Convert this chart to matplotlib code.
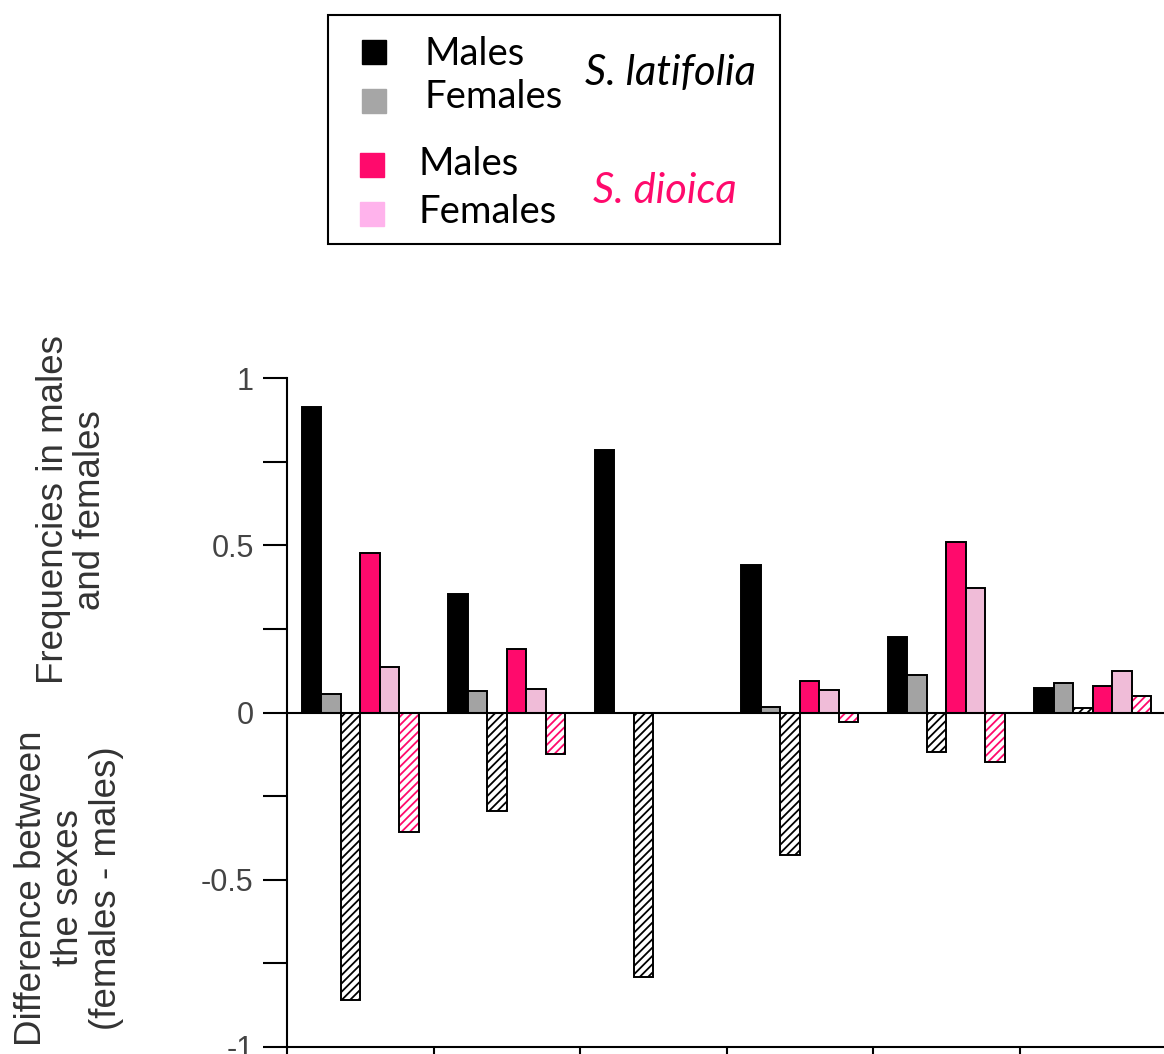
import numpy as np
import matplotlib
matplotlib.use('Agg')
import matplotlib.pyplot as plt
from matplotlib.patches import Rectangle

# values, one entry per locus/group
n_groups = 6
sl_males = [0.914, 0.353, 0.786, 0.441, 0.225, 0.073]
sl_females = [0.055, 0.063, 0.0, 0.016, 0.111, 0.088]
sl_diff = [-0.86, -0.293, -0.79, -0.426, -0.117, 0.013]
sd_males = [0.478, 0.191, 0.0, 0.095, 0.51, 0.08]
sd_females = [0.136, 0.07, 0.0, 0.068, 0.373, 0.125]
sd_diff = [-0.357, -0.123, 0.0, -0.029, -0.147, 0.048]

yticks_major = [-1, -0.5, 0, 0.5, 1]
ytick_labels = ['-1', '-0.5', '0', '0.5', '1']

black = '#000000'
grey = '#a3a3a3'
pink = '#ff0a6c'
lightpink = '#f0bcd8'
legend_lightpink = '#ffb3ec'
label_col = '#333333'

plt.rcParams['hatch.linewidth'] = 1.3

W, H = 1164, 1054
fig = plt.figure(figsize=(W / 100, H / 100), dpi=100)
ax = fig.add_axes([287 / W, 7 / H, 879 / W, 669 / H])

x = np.arange(n_groups)
bw = 0.8 / 6
lw = 1.4

def bars(k, vals, color, hatch=None, hatch_col=None):
    pos = x + 0.1 + k * bw
    if hatch is None:
        ax.bar(pos, vals, bw, align='edge', color=color, edgecolor='black', linewidth=lw, zorder=3)
    else:
        # hatch colour follows the edge colour, so draw the hatch then the black outline
        ax.bar(pos, vals, bw, align='edge', color='white', edgecolor=hatch_col, hatch=hatch, linewidth=0, zorder=3)
        ax.bar(pos, vals, bw, align='edge', fill=False, edgecolor='black', linewidth=lw, zorder=4)

bars(0, sl_males, black)
bars(1, sl_females, grey)
bars(2, sl_diff, None, hatch='////', hatch_col='black')
bars(3, sd_males, pink)
bars(4, sd_females, lightpink)
bars(5, sd_diff, None, hatch='////', hatch_col=pink)

ax.axhline(0, color='black', lw=1.5, zorder=5)

ax.set_xlim(0, n_groups)
ax.set_ylim(-1, 1)
ax.set_xticks(np.arange(n_groups + 1))
ax.set_xticklabels([])
ax.set_yticks(yticks_major)
ax.set_yticklabels(ytick_labels)
ax.set_yticks(np.arange(-0.75, 1.0, 0.5), minor=True)
ax.tick_params(axis='y', which='both', direction='out', length=17, width=1.5, pad=7,
               labelsize=22, labelcolor='#444444')
ax.tick_params(axis='x', direction='out', length=8, width=1.5)
for lab in ax.get_yticklabels():
    lab.set_fontfamily('Liberation Sans')
ax.spines['top'].set_visible(False)
ax.spines['right'].set_visible(False)
ax.spines['left'].set_linewidth(1.5)
ax.spines['bottom'].set_linewidth(1.5)

# axis titles (two stacked labels on the left)
fig.text(72 / W, 1 - 510 / H, 'Frequencies in males\nand females', rotation=90,
         ha='center', va='center', fontsize=26.5, family='Liberation Sans',
         color=label_col, linespacing=1.1)
fig.text(69 / W, 1 - 888 / H, 'Difference between\nthe sexes\n(females - males)', rotation=90,
         ha='center', va='center', fontsize=26.5, family='Liberation Sans',
         color=label_col, linespacing=1.1)

# legend box drawn in pixel coordinates
lg = fig.add_axes([0, 0, 1, 1])
lg.set_xlim(0, W)
lg.set_ylim(H, 0)
lg.axis('off')
lg.add_patch(Rectangle((328, 15), 452, 229, fill=False, edgecolor='black', lw=1.5))
lg.add_patch(Rectangle((362, 40), 24, 23.5, color=black))
lg.add_patch(Rectangle((362, 89), 24, 23.5, color='#a6a6a6'))
lg.add_patch(Rectangle((359.5, 153), 24, 23.5, color=pink))
lg.add_patch(Rectangle((359.5, 202), 24, 23.5, color=legend_lightpink))
tf = dict(family='Lato', va='baseline', ha='left')
lg.text(424, 65, 'Males', fontsize=27.5, **tf)
lg.text(424, 108, 'Females', fontsize=27.5, **tf)
lg.text(419, 175, 'Males', fontsize=27.5, **tf)
lg.text(419, 223, 'Females', fontsize=27.5, **tf)
lg.text(585, 85, 'S. latifolia', style='italic', color='black', fontsize=30, **tf)
lg.text(593, 203, 'S. dioica', style='italic', color=pink, fontsize=30, **tf)

fig.savefig('out.png', dpi=100)
